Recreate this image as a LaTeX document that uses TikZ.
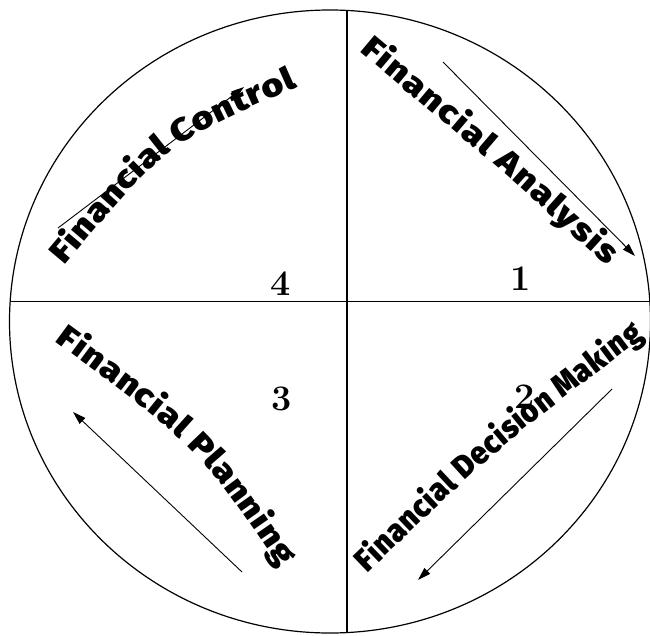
\documentclass[tikz,border=0pt]{standalone}
\usepackage{fontspec}
\newfontfamily\arcfont{Fira Sans Black}
\usetikzlibrary{arrows.meta,decorations.text}

\tikzset{
  arcword/.style 2 args={
    decorate,
    decoration={text along path, text align={fit to path}, raise=-10.5pt,
      text={|\arcfont\fontsize{32}{32}\selectfont\addfontfeature{FakeStretch=#1}|#2}}},
  cycle arrow/.style={-{Triangle[length=13pt,width=8pt]}, line width=0.9pt},
  quarter/.style={font=\bfseries\fontsize{36}{36}\selectfont, inner sep=0pt}
}

\begin{document}
\begin{tikzpicture}[x=1pt,y=1pt]
  \useasboundingbox (0,0) rectangle (650,-635);
  % wheel and cross
  \draw[line width=1.2pt] (330,-321.5) ellipse [x radius=320.5, y radius=311.5];
  \draw[line width=1.2pt] (10.2,-301.7) -- (649.9,-301.7);
  \draw[line width=1.2pt] (347,-10.4) -- (347,-632.6);

  % quarter numbers
  \node[quarter] (n1) at (521,-279) {1};
  \node[quarter] (n2) at (525,-397) {2};
  \node[quarter] (n3) at (282,-399) {3};
  \node[quarter] (n4) at (281,-284) {4};

  % arrows of the cycle
  \coordinate (s1) at (443,-62);  \coordinate (e1) at (635,-256);
  \coordinate (s2) at (612,-389); \coordinate (e2) at (418,-580);
  \coordinate (s3) at (242,-572); \coordinate (e3) at (73,-412);
  \coordinate (s4) at (58,-228);  \coordinate (e4) at (244,-87);
  \foreach \i in {1,...,4} {
    \draw[cycle arrow] (s\i) -- (e\i);
  }

  % curved titles
  \path[arcword={1.17}{Financial Analysis}] (366,-43) .. controls (515,-168) .. (614,-258);
  \path[arcword={0.92}{Financial Decision Making}] (360,-566) .. controls (495,-436) .. (638,-329);
  \path[arcword={1.15}{Financial Planning}] (61,-333) .. controls (206,-440) .. (289,-562);
  \path[arcword={1.16}{Financial Control}] (56,-259) .. controls (159.5,-136) .. (293,-77);
\end{tikzpicture}
\end{document}
